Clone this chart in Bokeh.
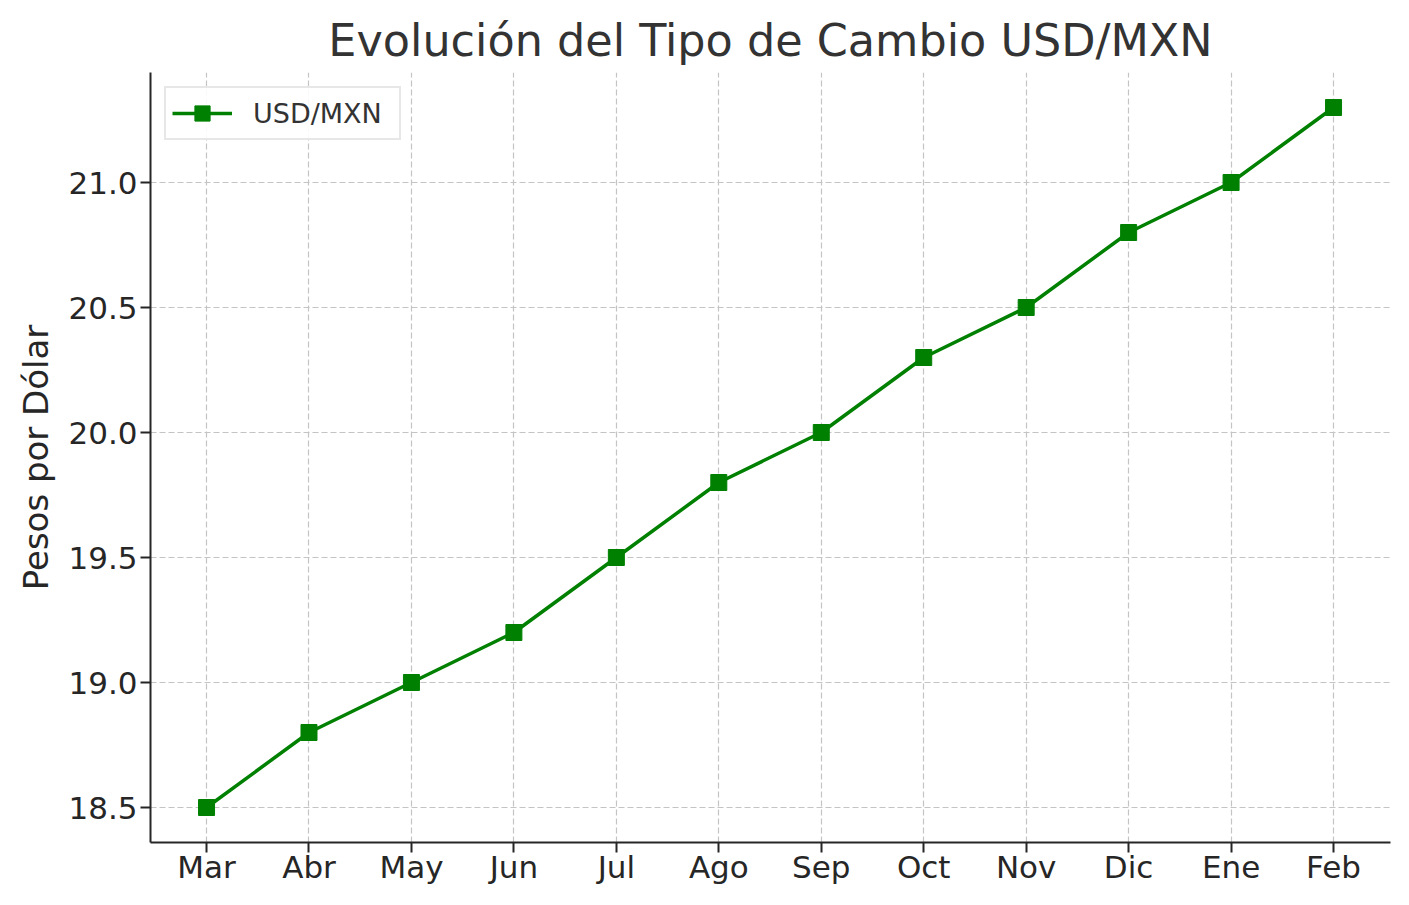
from bokeh.embed import file_html
from bokeh.resources import INLINE
from bokeh.models import ColumnDataSource, Range1d, FixedTicker, Legend, LegendItem
from bokeh.plotting import figure

months = ["Mar", "Abr", "May", "Jun", "Jul", "Ago", "Sep", "Oct", "Nov", "Dic", "Ene", "Feb"]
rates = [18.5, 18.8, 19.0, 19.2, 19.5, 19.8, 20.0, 20.3, 20.5, 20.8, 21.0, 21.3]
y_ticks = [18.5, 19.0, 19.5, 20.0, 20.5, 21.0]

FONT = "DejaVu Sans"
GREEN = "#008000"
INK = "#262626"

xs = list(range(len(months)))
source = ColumnDataSource(data={"x": xs, "rate": rates, "month": months})

p = figure(
    width=1400, height=897,
    output_backend="svg", toolbar_location=None,
    x_range=Range1d(-0.547, len(months) - 1 + 0.556),
    y_range=Range1d(18.36, 21.44),
    min_border_left=150, min_border_right=10,
    min_border_top=72, min_border_bottom=55,
)
p.outline_line_color = None
p.background_fill_color = "white"

# title
p.title.text = "Evolución del Tipo de Cambio USD/MXN"
p.title.align = "center"
p.title.text_font = FONT
p.title.text_font_size = "44.5px"
p.title.text_font_style = "normal"
p.title.text_color = "#333333"
p.title.standoff = 13

line = p.line("x", "rate", source=source, line_color=GREEN, line_width=3.5)
marks = p.scatter("x", "rate", source=source, marker="square", size=16,
                  fill_color=GREEN, line_color=GREEN)

# axes
p.xaxis.ticker = FixedTicker(ticks=xs)
p.xaxis.major_label_overrides = {i: m for i, m in enumerate(months)}
p.yaxis.ticker = FixedTicker(ticks=y_ticks)
p.yaxis.major_label_overrides = {v: f"{v:.1f}" for v in y_ticks}
p.yaxis.axis_label = "Pesos por Dólar"

for ax in (p.xaxis[0], p.yaxis[0]):
    ax.axis_line_color = INK
    ax.axis_line_width = 2
    ax.major_tick_line_color = INK
    ax.major_tick_line_width = 2
    ax.major_tick_out = 10
    ax.major_tick_in = 0
    ax.minor_tick_line_color = None
    ax.major_label_text_font = FONT
    ax.major_label_text_font_size = "31px"
    ax.major_label_text_color = INK
    ax.axis_label_text_font = FONT
    ax.axis_label_text_font_size = "34px"
    ax.axis_label_text_font_style = "normal"
    ax.axis_label_text_color = INK

p.xaxis.major_label_standoff = -4
p.yaxis.major_label_standoff = 3
p.yaxis.axis_label_standoff = 9

# grid
for g in (p.xgrid[0], p.ygrid[0]):
    g.grid_line_color = "#c4c4c4"
    g.grid_line_dash = "6 3"
    g.grid_line_width = 1.2

legend = Legend(
    items=[LegendItem(label="USD/MXN", renderers=[line, marks])],
    location="top_left",
    label_text_font=FONT,
    label_text_font_size="27px",
    label_text_color="#333333",
    glyph_width=60,
    glyph_height=38,
    label_standoff=21,
    label_width=140,
    padding=6,
    margin=14,
    border_line_color="#d0d0d0",
    border_line_width=2,
    background_fill_color="white",
    background_fill_alpha=0.9,
)
p.add_layout(legend)

open("out.html", "w").write(file_html(p, INLINE))
